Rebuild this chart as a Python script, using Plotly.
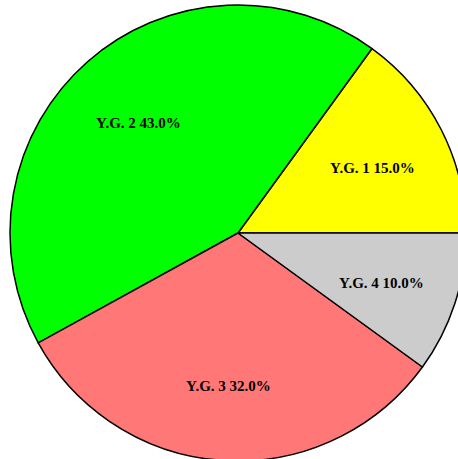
import math

import plotly.graph_objects as go

W = 476
H = 466
CX, CY, R = 238, 233, 228
LABEL_R = 0.66

labels = ["Y.G. 1", "Y.G. 2", "Y.G. 3", "Y.G. 4"]
values = [15.0, 43.0, 32.0, 10.0]
colors = ["#ffff00", "#00ff00", "#ff7777", "#cccccc"]

total = sum(values)
# plotly measures rotation clockwise from 12 o'clock; first slice starts at 3 o'clock going ccw
rotation = 90 - 360 * values[0] / total

fig = go.Figure(
    go.Pie(
        labels=labels,
        values=values,
        sort=False,
        direction="counterclockwise",
        rotation=rotation,
        marker=dict(colors=colors, line=dict(color="#000000", width=1.5)),
        textinfo="none",
        domain=dict(x=[(CX - R) / W, (CX + R) / W], y=[1 - (CY + R) / H, 1 - (CY - R) / H]),
        showlegend=False,
        hoverinfo="label+percent",
    )
)

start = 0.0
for lab, v in zip(labels, values):
    mid = math.radians((start + v / 2) / total * 360)
    start += v
    fig.add_annotation(
        x=(CX + LABEL_R * R * math.cos(mid)) / W,
        y=(H - CY + LABEL_R * R * math.sin(mid)) / H,
        xref="paper",
        yref="paper",
        xanchor="center",
        yanchor="middle",
        yshift=-3,
        text=f"<b>{lab} {v / total:.1%}</b>",
        showarrow=False,
        font=dict(family="Liberation Serif", size=15, color="#000000"),
    )

fig.update_layout(
    width=W,
    height=H,
    margin=dict(l=0, r=0, t=0, b=0),
    paper_bgcolor="#ffffff",
    plot_bgcolor="#ffffff",
)

fig.write_html(
    "out.html",
    config={"displayModeBar": False},
    post_script="document.body.style.margin='0';document.body.style.overflow='hidden';",
)
